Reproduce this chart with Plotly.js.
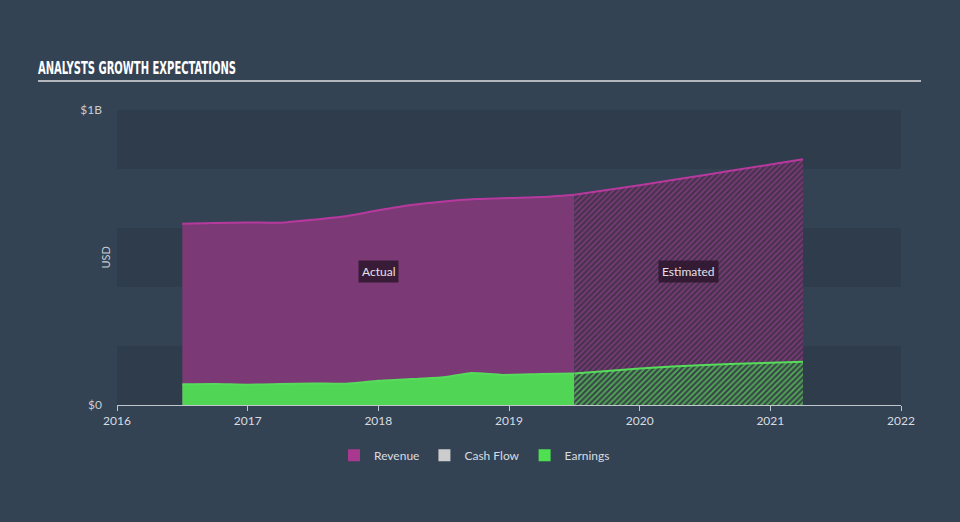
<!DOCTYPE html>
<html>
<head>
<meta charset="utf-8">
<script src="https://cdn.plot.ly/plotly-3.0.1.min.js"></script>
<style>
  html, body { margin: 0; padding: 0; background: #344354; }
  #chart { width: 960px; height: 522px; }
</style>
</head>
<body>
<div id="chart"></div>
<script>
// ---- data (values in USD) ----
const revenueActualX = [2016.5, 2016.75, 2017.0, 2017.25, 2017.5, 2017.75, 2018.0, 2018.25, 2018.5, 2018.75, 2019.0, 2019.25, 2019.5];
const revenueActualY = [614e6, 617e6, 619e6, 618e6, 628e6, 640e6, 660e6, 678e6, 690e6, 698e6, 702e6, 705e6, 713e6];
const revenueEstX = [2019.5, 2020.0, 2020.5, 2021.0, 2021.25];
const revenueEstY = [713e6, 745e6, 780e6, 815e6, 833e6];

const earningsActualX = [2016.5, 2016.75, 2017.0, 2017.25, 2017.5, 2017.75, 2018.0, 2018.25, 2018.5, 2018.7, 2018.95, 2019.25, 2019.5];
const earningsActualY = [70e6, 71e6, 69e6, 71e6, 73e6, 72e6, 82e6, 88e6, 94e6, 108e6, 102e6, 105e6, 107e6];
const earningsEstX = [2019.5, 2020.0, 2020.5, 2021.0, 2021.25];
const earningsEstY = [107e6, 124e6, 136e6, 143e6, 147e6];

const xTickVals = [2016, 2017, 2018, 2019, 2020, 2021, 2022];
const xTickText = ['2016', '2017', '2018', '2019', '2020', '2021', '2022'];
const yTickVals = [0, 1e9];
const yTickText = ['$0', '$1B'];
const legendNames = ['Revenue', 'Cash Flow', 'Earnings'];
const regionLabels = ['Actual', 'Estimated'];
const titleText = 'ANALYSTS GROWTH EXPECTATIONS';
const yAxisLabel = 'USD';

// ---- styles ----
const REV_LINE = '#b8399e';
const REV_FILL = '#7b3a76';
const EARN_LINE = '#56dc5a';
const EARN_FILL = '#50d555';
const CASH = '#cccccc';

const traces = [
  {
    x: revenueActualX, y: revenueActualY, type: 'scatter', mode: 'lines',
    line: {color: REV_LINE, width: 2, shape: 'spline', smoothing: 0.6},
    fill: 'tozeroy', fillcolor: REV_FILL, showlegend: false, hoverinfo: 'skip'
  },
  {
    x: revenueEstX, y: revenueEstY, type: 'scatter', mode: 'lines',
    line: {color: REV_LINE, width: 2, shape: 'spline', smoothing: 0.6},
    fill: 'tozeroy',
    fillpattern: {shape: '/', bgcolor: '#46334e', fgcolor: '#7e3a7a', size: 4, solidity: 0.4},
    showlegend: false, hoverinfo: 'skip'
  },
  {
    x: earningsActualX, y: earningsActualY, type: 'scatter', mode: 'lines',
    line: {color: EARN_LINE, width: 2, shape: 'spline', smoothing: 0.6},
    fill: 'tozeroy', fillcolor: EARN_FILL, showlegend: false, hoverinfo: 'skip'
  },
  {
    x: earningsEstX, y: earningsEstY, type: 'scatter', mode: 'lines',
    line: {color: EARN_LINE, width: 2, shape: 'spline', smoothing: 0.6},
    fill: 'tozeroy',
    fillpattern: {shape: '/', bgcolor: '#384848', fgcolor: '#53b057', size: 4, solidity: 0.4},
    showlegend: false, hoverinfo: 'skip'
  },
  // legend-only entries
  {x: [null], y: [null], type: 'bar', name: legendNames[0], marker: {color: '#a8398f'}},
  {x: [null], y: [null], type: 'bar', name: legendNames[1], marker: {color: CASH}},
  {x: [null], y: [null], type: 'bar', name: legendNames[2], marker: {color: '#4fe052'}}
];

// alternating background bands
const bandShapes = [];
[[0, 0.2e9], [0.4e9, 0.6e9], [0.8e9, 1e9]].forEach(b => {
  bandShapes.push({
    type: 'rect', xref: 'paper', yref: 'y', x0: 0, x1: 1, y0: b[0], y1: b[1],
    fillcolor: '#2f3c4b', line: {width: 0}, layer: 'below'
  });
});
bandShapes.push({
  type: 'line', xref: 'paper', yref: 'paper',
  x0: -79 / 784, x1: 804 / 784, y0: 1 + 29 / 295, y1: 1 + 29 / 295,
  line: {color: '#b4b8bd', width: 2}
});

const mid = (a, b) => (a + b) / 2;

const layout = {
  width: 960, height: 522,
  paper_bgcolor: '#344354', plot_bgcolor: 'rgba(0,0,0,0)',
  margin: {l: 117, r: 59, t: 110, b: 117},
  font: {family: 'Lato, "Open Sans", sans-serif', color: '#d0d4d9', size: 12},
  title: {
    text: '<b>' + titleText + '</b>',
    font: {family: '"DejaVu Sans Condensed", "Liberation Sans Narrow", sans-serif', size: 18, color: '#ffffff'},
    x: 38 / 960, xref: 'container', xanchor: 'left',
    y: 1 - 68 / 522, yref: 'container', yanchor: 'middle'
  },
  xaxis: {
    range: [2016, 2022], tickvals: xTickVals, ticktext: xTickText,
    showgrid: false, zeroline: false, showline: true, linecolor: '#c0c6ce', linewidth: 1,
    ticks: 'outside', ticklen: 5, tickcolor: '#c0c6ce',
    tickfont: {size: 12, color: '#d8dce0'}, fixedrange: true
  },
  yaxis: {
    range: [0, 1e9], tickvals: yTickVals, ticktext: yTickText,
    showgrid: false, zeroline: false, showline: false, ticks: '',
    ticklabelstandoff: 14,
    tickfont: {size: 12, color: '#c8ccd2'},
    fixedrange: true
  },
  shapes: bandShapes,
  annotations: [
    {
      x: mid(revenueActualX[0], revenueActualX[revenueActualX.length - 1]), y: 0.454e9,
      xref: 'x', yref: 'y', text: regionLabels[0], showarrow: false,
      bgcolor: 'rgba(45,22,45,0.85)', borderpad: 3,
      font: {size: 12, color: '#e8e0e8'}
    },
    {
      x: mid(revenueEstX[0], revenueEstX[revenueEstX.length - 1]), y: 0.454e9,
      xref: 'x', yref: 'y', text: regionLabels[1], showarrow: false,
      bgcolor: 'rgba(45,22,45,0.85)', borderpad: 3,
      font: {size: 12, color: '#e8e0e8'}
    },
    {
      x: -12 / 784, y: 0.5, xref: 'paper', yref: 'paper', text: yAxisLabel,
      textangle: -90, showarrow: false, xanchor: 'center', yanchor: 'middle',
      font: {size: 11, color: '#c8ccd2'}
    }
  ],
  legend: {
    orientation: 'h', x: 0.456, xanchor: 'center', y: -0.17, yanchor: 'middle',
    font: {size: 12, color: '#d8dce0'}, bgcolor: 'rgba(0,0,0,0)',
    itemwidth: 30, traceorder: 'normal'
  },
  showlegend: true,
  barmode: 'overlay'
};

Plotly.newPlot('chart', traces, layout, {displayModeBar: false, staticPlot: true}).then(gd => {
  // condense the title to the narrow width of the reference headline
  const t = gd.querySelector('.gtitle');
  if (t) {
    t.setAttribute('textLength', '198');
    t.setAttribute('lengthAdjust', 'spacingAndGlyphs');
  }
});
</script>
</body>
</html>
